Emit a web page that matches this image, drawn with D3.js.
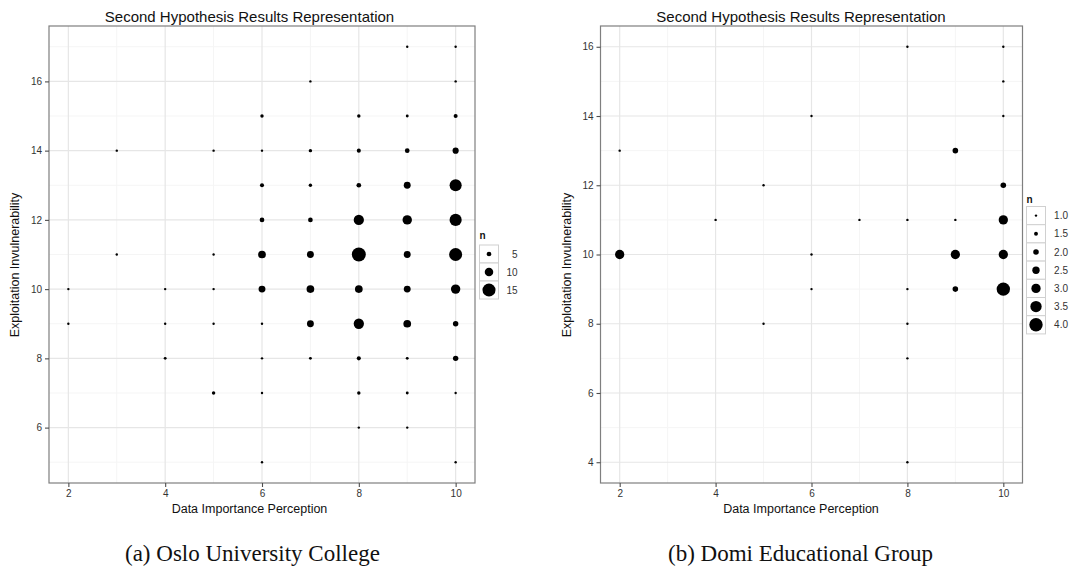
<!DOCTYPE html>
<html>
<head>
<meta charset="utf-8">
<script src="https://cdn.jsdelivr.net/npm/d3@7"></script>
<style>
  body { margin: 0; background: #fff; }
  svg text { font-family: "Liberation Sans", Arial, sans-serif; }
</style>
</head>
<body>
<svg id="chart" width="1077" height="570"></svg>
<script>
// chart text
const chartTitle = 'Second Hypothesis Results Representation';
const xLabel = 'Data Importance Perception';
const yLabel = 'Exploitation Invulnerability';
const captions = ['(a) Oslo University College', '(b) Domi Educational Group'];

// axis ticks
const xTicks = [2, 4, 6, 8, 10];
const osloYTicks = [6, 8, 10, 12, 14, 16];
const domiYTicks = [4, 6, 8, 10, 12, 14, 16];

// legend breaks for n
const osloLegend = [5, 10, 15];
const domiLegend = [1.0, 1.5, 2.0, 2.5, 3.0, 3.5, 4.0];

// [data importance, exploitation invulnerability, n]
const osloCounts = [
  [9, 17, 1], [10, 17, 1],
  [7, 16, 1], [10, 16, 1],
  [6, 15, 3], [8, 15, 3], [9, 15, 2], [10, 15, 4],
  [3, 14, 1], [5, 14, 1], [6, 14, 1], [7, 14, 3], [8, 14, 4], [9, 14, 5], [10, 14, 7],
  [6, 13, 4], [7, 13, 3], [8, 13, 5], [9, 13, 8], [10, 13, 14],
  [6, 12, 5], [7, 12, 5], [8, 12, 12], [9, 12, 11], [10, 12, 14],
  [3, 11, 1], [5, 11, 1], [6, 11, 9], [7, 11, 8], [8, 11, 16], [9, 11, 8], [10, 11, 15],
  [2, 10, 1], [4, 10, 1], [5, 10, 1], [6, 10, 8], [7, 10, 9], [8, 10, 9], [9, 10, 8], [10, 10, 11],
  [2, 9, 1], [4, 9, 1], [5, 9, 1], [6, 9, 1], [7, 9, 8], [8, 9, 12], [9, 9, 9], [10, 9, 6],
  [4, 8, 2], [6, 8, 1], [7, 8, 2], [8, 8, 4], [9, 8, 2], [10, 8, 6],
  [5, 7, 3], [6, 7, 1], [8, 7, 3], [9, 7, 2], [10, 7, 1],
  [8, 6, 1], [9, 6, 1],
  [6, 5, 1], [10, 5, 1]
];

const domiCounts = [
  [8, 16, 1], [10, 16, 1],
  [10, 15, 1],
  [6, 14, 1], [10, 14, 1],
  [2, 13, 1], [9, 13, 2],
  [5, 12, 1], [10, 12, 2],
  [4, 11, 1], [7, 11, 1], [8, 11, 1], [9, 11, 1], [10, 11, 3],
  [2, 10, 3], [6, 10, 1], [9, 10, 3], [10, 10, 3],
  [6, 9, 1], [8, 9, 1], [9, 9, 2], [10, 9, 4],
  [5, 8, 1], [8, 8, 1],
  [8, 7, 1],
  [8, 4, 1]
];

const svg = d3.select('#chart');

function padded(ext) {
  const p = (ext[1] - ext[0]) * 0.05;
  return [ext[0] - p, ext[1] + p];
}

function drawPanel(cfg) {
  const g = svg.append('g');
  const data = cfg.counts;

  const x = d3.scaleLinear()
    .domain(padded(d3.extent(data, d => d[0])))
    .range([cfg.left, cfg.right]);
  const y = d3.scaleLinear()
    .domain(padded(d3.extent(data, d => d[1])))
    .range([cfg.bottom, cfg.top]);
  const size = d3.scalePow().exponent(1.3)
    .domain(d3.extent(data, d => d[2]))
    .range([1.2, cfg.rMax]);

  // minor grid halfway between majors
  const xMinor = cfg.xTicks.slice(1).map((t, i) => (t + cfg.xTicks[i]) / 2);
  const yMinor = cfg.yTicks.slice(1).map((t, i) => (t + cfg.yTicks[i]) / 2);
  const step = cfg.yTicks[1] - cfg.yTicks[0];
  [cfg.yTicks[0] - step / 2, cfg.yTicks[cfg.yTicks.length - 1] + step / 2].forEach(v => {
    if (v > y.domain()[0] && v < y.domain()[1]) yMinor.push(v);
  });

  const grid = g.append('g');
  grid.selectAll('.xmin').data(xMinor).join('line')
    .attr('x1', d => x(d)).attr('x2', d => x(d))
    .attr('y1', cfg.top).attr('y2', cfg.bottom)
    .attr('stroke', '#f5f5f5').attr('stroke-width', 1);
  grid.selectAll('.ymin').data(yMinor).join('line')
    .attr('y1', d => y(d)).attr('y2', d => y(d))
    .attr('x1', cfg.left).attr('x2', cfg.right)
    .attr('stroke', '#f5f5f5').attr('stroke-width', 1);
  grid.selectAll('.xmaj').data(cfg.xTicks).join('line')
    .attr('x1', d => x(d)).attr('x2', d => x(d))
    .attr('y1', cfg.top).attr('y2', cfg.bottom)
    .attr('stroke', '#e6e6e6').attr('stroke-width', 1.2);
  grid.selectAll('.ymaj').data(cfg.yTicks).join('line')
    .attr('y1', d => y(d)).attr('y2', d => y(d))
    .attr('x1', cfg.left).attr('x2', cfg.right)
    .attr('stroke', '#e6e6e6').attr('stroke-width', 1.2);

  // points
  g.append('g').selectAll('circle')
    .data(data)
    .join('circle')
    .attr('cx', d => x(d[0]))
    .attr('cy', d => y(d[1]))
    .attr('r', d => size(d[2]))
    .attr('fill', '#000');

  // panel border
  g.append('rect')
    .attr('x', cfg.left).attr('y', cfg.top)
    .attr('width', cfg.right - cfg.left).attr('height', cfg.bottom - cfg.top)
    .attr('fill', 'none').attr('stroke', '#7f7f7f').attr('stroke-width', 1.2);

  // axes
  const xAxis = g.append('g')
    .attr('transform', `translate(0,${cfg.bottom})`)
    .call(d3.axisBottom(x).tickValues(cfg.xTicks).tickSize(4).tickPadding(3));
  const yAxis = g.append('g')
    .attr('transform', `translate(${cfg.left},0)`)
    .call(d3.axisLeft(y).tickValues(cfg.yTicks).tickSize(4).tickPadding(3));
  [xAxis, yAxis].forEach(a => {
    a.select('.domain').remove();
    a.selectAll('line').attr('stroke', '#4d4d4d').attr('stroke-width', 1.1);
    a.selectAll('text').attr('fill', '#333').attr('font-size', 10)
      .style('font-family', '"Liberation Sans", Arial, sans-serif');
  });

  // titles
  g.append('text')
    .attr('x', cfg.titleX).attr('y', 21.5)
    .attr('text-anchor', 'middle').attr('font-size', 15).attr('fill', '#111')
    .text(chartTitle);
  g.append('text')
    .attr('x', cfg.titleX).attr('y', 513)
    .attr('text-anchor', 'middle').attr('font-size', 12.5).attr('fill', '#111')
    .text(xLabel);
  g.append('text')
    .attr('transform', `translate(${cfg.yTitleX},265) rotate(-90)`)
    .attr('text-anchor', 'middle').attr('font-size', 12.5).attr('fill', '#111')
    .text(yLabel);

  // size legend
  const leg = g.append('g');
  leg.append('text')
    .attr('x', cfg.legX).attr('y', cfg.legTitleY)
    .attr('font-size', 10).attr('font-weight', 'bold').attr('fill', '#111')
    .text('n');
  const keys = leg.selectAll('.key').data(cfg.legend).join('g')
    .attr('transform', (d, i) => `translate(${cfg.legX},${cfg.legTop + i * cfg.keyH})`);
  keys.append('rect')
    .attr('width', 19).attr('height', cfg.keyH)
    .attr('fill', '#fff').attr('stroke', '#d0d0d0').attr('stroke-width', 1);
  keys.append('circle')
    .attr('cx', 9.5).attr('cy', cfg.keyH / 2)
    .attr('r', d => size(d)).attr('fill', '#000');
  keys.append('text')
    .attr('x', cfg.labelEnd).attr('y', cfg.keyH / 2).attr('dy', '0.36em')
    .attr('text-anchor', 'end').attr('font-size', 10).attr('fill', '#333')
    .text(d => cfg.fmt(d));

  // sub-figure caption
  svg.append('text')
    .attr('x', cfg.captionX).attr('y', 561)
    .attr('font-size', 23).attr('fill', '#111')
    .style('font-family', '"Liberation Serif", "Times New Roman", serif')
    .text(cfg.caption);
}

drawPanel({
  counts: osloCounts, xTicks: xTicks, yTicks: osloYTicks, legend: osloLegend,
  left: 49, right: 475, top: 26, bottom: 483, rMax: 7,
  titleX: 249.5, yTitleX: 19,
  legX: 479.5, legTitleY: 239, legTop: 245, keyH: 18, labelEnd: 38,
  fmt: d3.format('d'),
  caption: captions[0], captionX: 125
});

drawPanel({
  counts: domiCounts, xTicks: xTicks, yTicks: domiYTicks, legend: domiLegend,
  left: 600.5, right: 1022.5, top: 26, bottom: 483, rMax: 6.7,
  titleX: 801, yTitleX: 570.5,
  legX: 1026.5, legTitleY: 203, legTop: 206.5, keyH: 18.2, labelEnd: 41.5,
  fmt: d3.format('.1f'),
  caption: captions[1], captionX: 668
});
</script>
</body>
</html>
